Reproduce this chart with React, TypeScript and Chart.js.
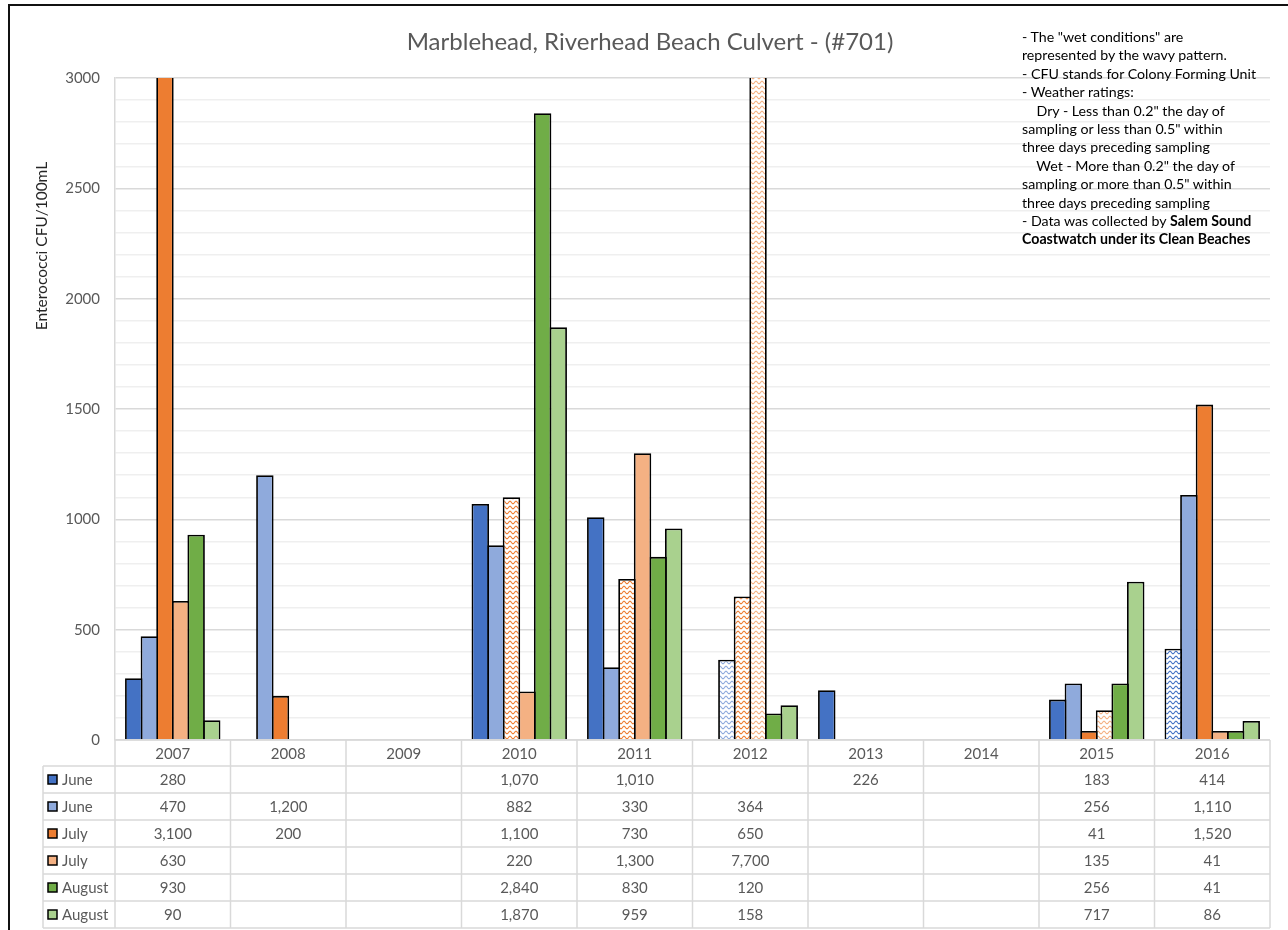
import React, { useEffect, useRef } from "react";
import { Chart, registerables } from "chart.js";

Chart.register(...registerables);

const years = ["2007", "2008", "2009", "2010", "2011", "2012", "2013", "2014", "2015", "2016"];
const seriesNames = ["June", "June", "July", "July", "August", "August"];
const seriesColors = ["#4472C4", "#8FAADC", "#ED7D31", "#F4B183", "#70AD47", "#A9D18E"];

const juneA = [280, null, null, 1070, 1010, null, 226, null, 183, 414];
const juneB = [470, 1200, null, 882, 330, 364, null, null, 256, 1110];
const julyA = [3100, 200, null, 1100, 730, 650, null, null, 41, 1520];
const julyB = [630, null, null, 220, 1300, 7700, null, null, 135, 41];
const augustA = [930, null, null, 2840, 830, 120, null, null, 256, 41];
const augustB = [90, null, null, 1870, 959, 158, null, null, 717, 86];

// wet sampling conditions (drawn with the wavy pattern)
const wetJuneA = [false, false, false, false, false, false, false, false, false, true];
const wetJuneB = [false, false, false, false, false, true, false, false, false, false];
const wetJulyA = [false, false, false, true, true, true, false, false, false, false];
const wetJulyB = [false, false, false, false, false, true, false, false, true, false];
const wetAugustA = [false, false, false, false, false, false, false, false, false, false];
const wetAugustB = [false, false, false, false, false, false, false, false, false, false];

const yTicksMax = 3000;
const yMajorStep = 500;
const yMinorStep = 100;

const titleText = "Marblehead, Riverhead Beach Culvert - (#701)";
const yTitleText = "Enterococci CFU/100mL";

const FONT = "Lato, 'Open Sans', sans-serif";

function makeWave(color: string): CanvasPattern | string {
  const c = document.createElement("canvas");
  c.width = 6;
  c.height = 5;
  const g = c.getContext("2d");
  if (!g) return color;
  g.fillStyle = "#ffffff";
  g.fillRect(0, 0, 6, 5);
  g.strokeStyle = color;
  g.lineWidth = 1.1;
  g.beginPath();
  for (let x = -1; x <= 7; x += 0.5) {
    const y = 2.5 - 1.3 * Math.cos((x / 6) * Math.PI * 2);
    if (x === -1) g.moveTo(x, y);
    else g.lineTo(x, y);
  }
  g.stroke();
  const p = g.createPattern(c, "repeat");
  return p || color;
}

const tablePlugin = {
  id: "dataTable",
  afterDraw(chart: any) {
    const ctx = chart.ctx as CanvasRenderingContext2D;
    const area = chart.chartArea;
    const xs = chart.scales.x;
    const n = years.length;
    const cw = (area.right - area.left) / n;
    const top = area.bottom;
    const headerH = 26;
    const rowH = 27;
    const tableLeft = 43;
    const datasets = chart.data.datasets;
    const rows = datasets.length;
    const bottom = top + headerH + rows * rowH;

    ctx.save();
    ctx.strokeStyle = "#d9d9d9";
    ctx.lineWidth = 1.5;
    ctx.beginPath();
    ctx.moveTo(area.left, top);
    ctx.lineTo(area.right, top);
    for (let k = 0; k <= rows; k++) {
      const y = top + headerH + k * rowH;
      ctx.moveTo(tableLeft, y);
      ctx.lineTo(area.right, y);
    }
    for (let i = 0; i <= n; i++) {
      const x = area.left + i * cw;
      ctx.moveTo(x, top);
      ctx.lineTo(x, bottom);
    }
    ctx.moveTo(tableLeft, top + headerH);
    ctx.lineTo(tableLeft, bottom);
    ctx.stroke();

    ctx.font = `15px ${FONT}`;
    ctx.textBaseline = "middle";
    for (let k = 0; k < rows; k++) {
      const ds = datasets[k];
      const cy = top + headerH + k * rowH + rowH / 2;
      // legend key
      ctx.fillStyle = seriesColors[k];
      ctx.fillRect(48, cy - 4.5, 9, 9);
      ctx.strokeStyle = "#000";
      ctx.lineWidth = 1.5;
      ctx.strokeRect(48, cy - 4.5, 9, 9);
      ctx.fillStyle = "#595959";
      ctx.textAlign = "left";
      ctx.fillText(ds.label, 62, cy + 1);
      ctx.textAlign = "center";
      for (let i = 0; i < n; i++) {
        const v = ds.data[i];
        if (v === null || v === undefined) continue;
        ctx.fillText(Number(v).toLocaleString("en-US"), xs.getPixelForValue(i), cy + 1);
      }
    }

    // chart title
    ctx.fillStyle = "#595959";
    ctx.font = `24px ${FONT}`;
    ctx.textAlign = "center";
    ctx.fillText(titleText, 650, 42);

    // y axis title
    ctx.save();
    ctx.translate(42, 246);
    ctx.rotate(-Math.PI / 2);
    ctx.font = `15.5px ${FONT}`;
    ctx.fillStyle = "#262626";
    ctx.fillText(yTitleText, 0, 0);
    ctx.restore();

    // outer frame
    ctx.strokeStyle = "#111";
    ctx.lineWidth = 2;
    ctx.beginPath();
    ctx.moveTo(8, 5);
    ctx.lineTo(chart.width, 5);
    ctx.moveTo(9, 4);
    ctx.lineTo(9, chart.height);
    ctx.stroke();
    ctx.restore();
  },
};

export default function App() {
  const ref = useRef<HTMLCanvasElement>(null);

  useEffect(() => {
    if (!ref.current) return;
    const values = [juneA, juneB, julyA, julyB, augustA, augustB];
    const wets = [wetJuneA, wetJuneB, wetJulyA, wetJulyB, wetAugustA, wetAugustB];
    const datasets = values.map((vals, k) => {
      const pat = makeWave(seriesColors[k]);
      return {
        label: seriesNames[k],
        data: vals,
        backgroundColor: vals.map((_, i) => (wets[k][i] ? pat : seriesColors[k])),
        borderColor: "#000000",
        borderWidth: 1.8,
        borderSkipped: "start",
        categoryPercentage: 0.81,
        barPercentage: 1.12,
        clip: 0,
      };
    });

    const chart = new Chart(ref.current, {
      type: "bar",
      data: { labels: years, datasets: datasets as any },
      options: {
        animation: false,
        responsive: false,
        devicePixelRatio: 1,
        layout: { padding: { left: 10, top: 78, right: 18, bottom: 0 } },
        plugins: {
          legend: { display: false },
          title: { display: false },
          tooltip: { enabled: false },
        },
        scales: {
          x: {
            grid: { display: false, drawTicks: false },
            border: { display: false },
            ticks: {
              padding: 5,
              color: "#595959",
              font: { family: FONT, size: 15 },
              maxRotation: 0,
            },
            afterFit: (scale: any) => {
              scale.height = 190;
            },
          },
          y: {
            min: 0,
            max: yTicksMax,
            grid: {
              drawTicks: false,
              color: (c: any) => (c.tick && c.tick.value % yMajorStep === 0 ? "#d9d9d9" : "#efefef"),
              lineWidth: 1.5,
            },
            border: { display: true, color: "#d9d9d9", width: 1.5 },
            ticks: {
              stepSize: yMinorStep,
              autoSkip: false,
              padding: 15,
              color: "#595959",
              font: { family: FONT, size: 15 },
              callback: (v: any) => (Number(v) % yMajorStep === 0 ? String(v) : ""),
            },
            afterFit: (scale: any) => {
              scale.width = 105;
            },
          },
        },
      },
      plugins: [tablePlugin],
    });
    return () => chart.destroy();
  }, []);

  const noteLines: React.ReactNode[] = [
    '- The "wet conditions" are',
    "represented by the wavy pattern.",
    "- CFU stands for Colony Forming Unit",
    "- Weather ratings:",
    '    Dry - Less than 0.2" the day of',
    'sampling or less than 0.5" within',
    "three days preceding sampling",
    '    Wet - More than 0.2" the day of',
    'sampling or more than 0.5" within',
    "three days preceding sampling",
    <>
      - Data was collected by <b>Salem Sound</b>
    </>,
    <b>Coastwatch under its Clean Beaches</b>,
  ];

  return (
    <div style={{ position: "fixed", left: 0, top: 0, width: 1288, height: 930, background: "#fff", overflow: "hidden" }}>
      <canvas ref={ref} width={1288} height={930} style={{ display: "block" }} />
      <div
        style={{
          position: "absolute",
          left: 1022,
          top: 28,
          width: 264,
          fontFamily: FONT,
          fontSize: 14.2,
          lineHeight: "18.4px",
          color: "#000",
          whiteSpace: "pre",
        }}
      >
        {noteLines.map((l, i) => (
          <div key={i}>{l}</div>
        ))}
      </div>
    </div>
  );
}
